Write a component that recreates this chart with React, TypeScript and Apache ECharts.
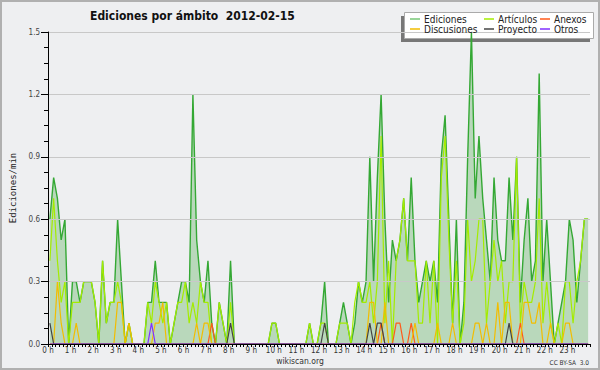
import React, { useEffect, useRef } from "react";
import * as echarts from "echarts";

// 10-minute slots, 144 per day (edits per minute)
const HOUR_LABELS = [
  "0 h", "1 h", "2 h", "3 h", "4 h", "5 h", "6 h", "7 h", "8 h", "9 h", "10 h", "11 h",
  "12 h", "13 h", "14 h", "15 h", "16 h", "17 h", "18 h", "19 h", "20 h", "21 h", "22 h", "23 h",
];

const EDICIONES = [
  0.6, 0.8, 0.7, 0.5, 0.6, 0, 0.3, 0.3, 0.2, 0.3, 0.3, 0.3,
  0.2, 0, 0.4, 0.1, 0.2, 0.2, 0.6, 0.3, 0, 0.1, 0, 0,
  0, 0, 0.2, 0.2, 0.4, 0.2, 0.2, 0.2, 0, 0.1, 0.2, 0.3,
  0.3, 0.2, 1.2, 0.5, 0.3, 0.2, 0.4, 0.1, 0, 0.2, 0.1, 0,
  0.4, 0, 0, 0, 0, 0, 0, 0, 0, 0, 0, 0.1,
  0.1, 0, 0, 0, 0, 0, 0, 0, 0, 0.1, 0, 0,
  0.1, 0.3, 0, 0, 0, 0.1, 0.2, 0.1, 0, 0.1, 0.3, 0.2,
  0.3, 0.9, 0.3, 0.8, 1.2, 0.6, 0.2, 0.5, 0.4, 0.5, 0.7, 0.4,
  0.8, 0.4, 0.2, 0.3, 0.4, 0.3, 0.4, 0.2, 0.9, 1.1, 0.6, 0.1,
  0.6, 0, 0.2, 0.9, 1.5, 0.7, 1.0, 0.7, 0.5, 0.3, 0.8, 0.5,
  0.4, 0.4, 0.8, 0.5, 0.9, 0.2, 0.5, 0.7, 0.3, 0.4, 1.3, 0.3,
  0.6, 0.3, 0, 0.1, 0.2, 0.3, 0.6, 0.5, 0.2, 0.4, 0.6, 0.6,
];

const ARTICULOS = [
  0.4, 0.7, 0.4, 0.2, 0.3, 0, 0.2, 0.2, 0.2, 0.3, 0.3, 0.3,
  0.2, 0, 0.4, 0.1, 0.2, 0.2, 0.3, 0.2, 0, 0.1, 0, 0,
  0, 0, 0.2, 0.1, 0.3, 0.2, 0.1, 0.2, 0, 0.1, 0.2, 0.2,
  0.3, 0.1, 0.2, 0.1, 0.3, 0.2, 0.2, 0, 0, 0.2, 0.1, 0,
  0.2, 0, 0, 0, 0, 0, 0, 0, 0, 0, 0, 0.1,
  0.1, 0, 0, 0, 0, 0, 0, 0, 0, 0.1, 0, 0,
  0.1, 0.1, 0, 0, 0, 0.1, 0.1, 0.1, 0, 0.2, 0.3, 0.2,
  0.2, 0.3, 0.1, 0.3, 1.0, 0.1, 0.4, 0, 0.4, 0.5, 0.7, 0.4,
  0.4, 0.4, 0.1, 0.1, 0.4, 0.1, 0.4, 0, 0.8, 1.0, 0.5, 0.1,
  0.4, 0, 0.1, 0.6, 0.3, 0.4, 0.6, 0.6, 0.1, 0.3, 0.5, 0.3,
  0.4, 0.1, 0.3, 0.3, 0.9, 0.1, 0.3, 0.2, 0.2, 0.3, 0.7, 0.1,
  0.3, 0.1, 0, 0.1, 0, 0.3, 0.3, 0.1, 0.3, 0.4, 0.6, 0.6,
];

const DISCUSIONES = [
  0, 0, 0.3, 0.1, 0, 0, 0, 0.1, 0, 0, 0, 0,
  0, 0, 0, 0, 0, 0, 0.2, 0.2, 0, 0.1, 0, 0,
  0, 0, 0, 0, 0.1, 0.1, 0.2, 0, 0, 0, 0, 0,
  0, 0, 0, 0.1, 0, 0.1, 0.1, 0, 0, 0, 0, 0,
  0, 0, 0, 0, 0, 0, 0, 0, 0, 0, 0, 0,
  0, 0, 0, 0, 0, 0, 0, 0, 0, 0, 0, 0,
  0, 0, 0, 0, 0, 0, 0, 0, 0, 0, 0, 0,
  0, 0.2, 0.2, 0, 0, 0.2, 0, 0, 0, 0, 0, 0,
  0, 0.1, 0, 0, 0, 0, 0, 0.1, 0, 0, 0, 0.1,
  0, 0, 0, 0, 0, 0.1, 0.1, 0, 0.1, 0, 0, 0.2,
  0, 0.2, 0.2, 0, 0, 0, 0.2, 0.2, 0.1, 0.1, 0.2, 0,
  0, 0.1, 0, 0, 0, 0.1, 0.1, 0, 0, 0, 0, 0,
];

const ANEXOS = [
  0, 0, 0, 0, 0, 0, 0, 0, 0, 0, 0, 0,
  0, 0, 0, 0, 0, 0, 0, 0, 0, 0, 0, 0,
  0, 0, 0, 0, 0, 0, 0, 0, 0, 0, 0, 0,
  0, 0, 0, 0, 0, 0, 0, 0.1, 0, 0, 0, 0,
  0, 0, 0, 0, 0, 0, 0, 0, 0, 0, 0, 0,
  0, 0, 0, 0, 0, 0, 0, 0, 0, 0, 0, 0,
  0, 0, 0, 0, 0, 0, 0, 0, 0, 0, 0, 0,
  0, 0, 0, 0, 0.1, 0, 0, 0, 0.1, 0.1, 0, 0,
  0.1, 0, 0, 0, 0, 0, 0, 0, 0, 0, 0, 0,
  0, 0, 0, 0, 0, 0, 0, 0, 0, 0, 0, 0,
  0, 0, 0, 0, 0, 0.1, 0, 0, 0, 0, 0, 0,
  0, 0, 0, 0, 0, 0, 0, 0, 0, 0, 0, 0,
];

const PROYECTO = [
  0.1, 0, 0, 0, 0, 0, 0, 0, 0, 0, 0, 0,
  0, 0, 0, 0, 0, 0, 0, 0, 0, 0, 0, 0,
  0, 0, 0, 0, 0, 0, 0, 0, 0, 0, 0, 0,
  0, 0, 0, 0, 0, 0, 0, 0, 0, 0, 0, 0,
  0.1, 0, 0, 0, 0, 0, 0, 0, 0, 0, 0, 0,
  0, 0, 0, 0, 0, 0, 0, 0, 0, 0, 0, 0,
  0, 0.1, 0, 0, 0, 0, 0, 0, 0, 0, 0, 0,
  0, 0.1, 0, 0.1, 0.1, 0, 0, 0, 0, 0, 0, 0,
  0, 0, 0, 0, 0, 0, 0, 0, 0, 0, 0, 0,
  0, 0, 0, 0, 0, 0, 0, 0, 0, 0, 0, 0,
  0, 0, 0.1, 0, 0, 0, 0, 0, 0, 0, 0, 0,
  0, 0, 0, 0, 0, 0, 0, 0, 0, 0, 0, 0,
];

const OTROS = [
  0, 0, 0, 0, 0, 0, 0, 0, 0, 0, 0, 0,
  0, 0, 0, 0, 0, 0, 0, 0, 0, 0, 0, 0,
  0, 0, 0, 0.1, 0, 0, 0, 0, 0, 0, 0, 0,
  0, 0, 0, 0, 0, 0, 0, 0, 0, 0, 0, 0,
  0, 0, 0, 0, 0, 0, 0, 0, 0, 0, 0, 0,
  0, 0, 0, 0, 0, 0, 0, 0, 0, 0, 0, 0,
  0, 0, 0, 0, 0, 0, 0, 0, 0, 0, 0, 0,
  0, 0, 0, 0, 0, 0, 0, 0, 0, 0, 0, 0,
  0, 0, 0, 0, 0, 0, 0, 0, 0, 0, 0, 0,
  0, 0, 0, 0, 0, 0, 0, 0, 0, 0, 0, 0,
  0, 0, 0, 0, 0, 0, 0, 0, 0, 0, 0, 0,
  0, 0, 0, 0, 0, 0, 0, 0, 0, 0, 0, 0,
];

const TITLE = "Ediciones por ámbito  2012-02-15";
const Y_NAME = "Ediciones/min";

const SLOTS: string[] = [];
for (let h = 0; h < 24; h++) {
  for (let m = 0; m < 60; m += 10) {
    SLOTS.push(`${h}:${m < 10 ? "0" + m : m}`);
  }
}

const COND = "'DejaVu Sans Condensed', 'DejaVu Sans', sans-serif";

export default function App() {
  const ref = useRef<HTMLDivElement>(null);
  useEffect(() => {
    document.body.style.margin = "0";
    if (!ref.current) return;
    const chart = echarts.init(ref.current, null, { renderer: "svg" });
    const line = (name: string, data: number[], color: string, width: number, extra: any = {}) => ({
      name,
      type: "line",
      data,
      xAxisIndex: 0,
      yAxisIndex: 0,
      symbol: "none",
      lineStyle: { color, width },
      itemStyle: { color },
      silent: true,
      ...extra,
    });
    const legendBase = {
      orient: "vertical",
      top: 14,
      padding: 0,
      itemGap: 0,
      itemWidth: 10,
      itemHeight: 1.5,
      icon: "rect",
      selectedMode: false,
      z: 10,
      textStyle: { fontFamily: COND, fontSize: 10, color: "#222", lineHeight: 10, padding: [0, 0, 0, -1] },
    };
    chart.setOption({
      animation: false,
      backgroundColor: "#eeeff1",
      title: {
        text: TITLE,
        left: 85,
        top: 5,
        textStyle: { fontFamily: COND, fontWeight: "bold", fontSize: 12, color: "#111" },
      },
      grid: { left: 45, right: 10, top: 32, bottom: 26, containLabel: false },
      legend: [
        { ...legendBase, left: 410, data: [{ name: "Ediciones", itemStyle: { color: "#77c777" } }, "Discusiones"] },
        { ...legendBase, left: 484, data: ["Artículos", "Proyecto"] },
        { ...legendBase, left: 540, data: ["Anexos", "Otros"] },
      ],
      xAxis: [
        {
          type: "category",
          data: SLOTS,
          boundaryGap: true,
          z: 5,
          axisLine: { lineStyle: { color: "#000", width: 1 } },
          axisTick: { show: true, interval: 0, length: 3, lineStyle: { color: "#000" } },
          axisLabel: { show: false },
          splitLine: { show: false },
        },
        {
          type: "value",
          min: 0,
          max: 24,
          interval: 1,
          position: "bottom",
          z: 5,
          axisLine: { show: false },
          axisTick: { show: false },
          splitLine: { show: false },
          axisLabel: {
            margin: 2,
            fontFamily: COND,
            fontSize: 8,
            color: "#333",
            formatter: (v: number) => (v < 24 ? HOUR_LABELS[v] : ""),
          },
        },
      ],
      yAxis: {
        type: "value",
        min: 0,
        max: 1.5,
        interval: 0.3,
        z: 5,
        name: Y_NAME,
        nameLocation: "middle",
        nameRotate: 90,
        nameGap: 31,
        nameTextStyle: { fontFamily: "'DejaVu Sans Mono', monospace", fontSize: 9, color: "#222" },
        axisLine: { show: true, lineStyle: { color: "#000", width: 1 } },
        axisTick: { show: true, length: 7, lineStyle: { color: "#000" } },
        minorTick: { show: true, splitNumber: 4, length: 4, lineStyle: { color: "#000" } },
        splitLine: { show: true, lineStyle: { color: "#c8c8c8", width: 1 } },
        axisLabel: {
          margin: 8,
          fontFamily: COND,
          fontSize: 8,
          color: "#444",
          formatter: (v: number) => v.toFixed(1),
        },
      },
      series: [
        line("Ediciones", EDICIONES, "#34a834", 1.4, {
          areaStyle: { color: "rgba(70,165,70,0.45)" },
        }),
        line("Artículos", ARTICULOS, "#a4ec00", 1.2),
        line("Anexos", ANEXOS, "#ff5a1a", 1.2),
        line("Discusiones", DISCUSIONES, "#f2bd00", 1.2),
        line("Proyecto", PROYECTO, "#444444", 1.2),
        line("Otros", OTROS, "#8030ff", 1.2),
      ],
      graphic: [
        {
          type: "rect",
          z: 0,
          silent: true,
          shape: { x: 1, y: 1, width: 598, height: 368 },
          style: { fill: "none", stroke: "#b0b0b0", lineWidth: 2 },
        },
        {
          type: "rect",
          z: 1,
          silent: true,
          shape: { x: 401, y: 16, width: 189, height: 26 },
          style: { fill: "#777" },
        },
        {
          type: "rect",
          z: 2,
          silent: true,
          shape: { x: 404.5, y: 12.5, width: 189, height: 26 },
          style: { fill: "#fff", stroke: "#aaa", lineWidth: 1 },
        },
        {
          type: "text",
          z: 3,
          silent: true,
          style: {
            x: 300,
            y: 361,
            text: "wikiscan.org",
            align: "center",
            verticalAlign: "middle",
            fontFamily: COND,
            fontSize: 8.5,
            fill: "#333",
          },
        },
        {
          type: "text",
          z: 3,
          silent: true,
          style: {
            x: 589,
            y: 362.5,
            text: "CC BY-SA  3.0",
            align: "right",
            verticalAlign: "middle",
            fontFamily: COND,
            fontSize: 6.5,
            fill: "#333",
          },
        },
      ],
    });
    return () => chart.dispose();
  }, []);
  return <div ref={ref} style={{ width: 600, height: 370 }} />;
}
